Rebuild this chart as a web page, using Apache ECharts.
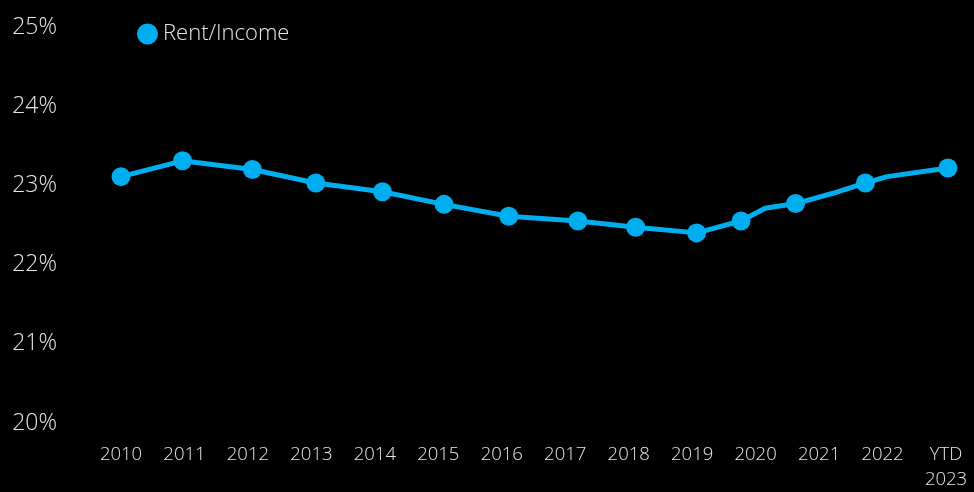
<!DOCTYPE html>
<html>
<head>
<meta charset="utf-8">
<script src="https://cdn.jsdelivr.net/npm/echarts@6/dist/echarts.min.js"></script>
<style>
  html, body { margin: 0; padding: 0; background: #000; }
  #chart { width: 974px; height: 492px; }
</style>
</head>
<body>
<div id="chart"></div>
<script>
// Annual rent-to-income readings (marked points), positioned on a fractional-year axis
const markX = [2010.0, 2010.97, 2012.07, 2013.07, 2014.12, 2015.09, 2016.11, 2017.2, 2018.11, 2019.07, 2019.77, 2020.63, 2021.73, 2023.03];
const markY = [23.06, 23.26, 23.15, 22.98, 22.87, 22.71, 22.56, 22.5, 22.42, 22.35, 22.5, 22.72, 22.98, 23.17];
// Intermediate readings on the line without a marker
const bendX = [2020.15, 2021.22, 2022.07];
const bendY = [22.66, 22.85, 23.06];
// Axis ticks
const yearTicks = [2010, 2011, 2012, 2013, 2014, 2015, 2016, 2017, 2018, 2019, 2020, 2021, 2022, 2023];
const yearLabels = ['2010', '2011', '2012', '2013', '2014', '2015', '2016', '2017', '2018', '2019', '2020', '2021', '2022', 'YTD\n2023'];

const points = [];
markX.forEach((x, i) => points.push({ value: [x, markY[i]] }));
bendX.forEach((x, i) => points.push({ value: [x, bendY[i]], symbol: 'none' }));
points.sort((a, b) => a.value[0] - b.value[0]);

const BLUE = '#00AEEF';
const TEXT = '#e6e6e6';
const FONT = '"Open Sans", Lato, sans-serif';

const chart = echarts.init(document.getElementById('chart'));
chart.setOption({
  backgroundColor: '#000',
  animation: false,
  grid: { left: 121, right: 28, top: 23, bottom: 65.5 },
  legend: {
    left: 132, top: 18,
    icon: 'circle', itemWidth: 21, itemHeight: 21, itemGap: 10,
    textStyle: { color: TEXT, fontSize: 22, fontFamily: FONT, fontWeight: 300 },
    data: ['Rent/Income']
  },
  xAxis: {
    type: 'value', min: 2010, max: 2023, interval: 1,
    axisLine: { show: false }, axisTick: { show: false }, splitLine: { show: false },
    axisLabel: {
      color: TEXT, fontSize: 18.5, fontFamily: FONT, fontWeight: 300, lineHeight: 25, margin: 23,
      formatter: v => { const k = yearTicks.indexOf(v); return k >= 0 ? yearLabels[k] : ''; }
    }
  },
  yAxis: {
    type: 'value', min: 20, max: 25, interval: 1,
    axisLine: { show: false }, axisTick: { show: false }, splitLine: { show: false },
    axisLabel: {
      color: TEXT, margin: 64,
      formatter: '{p|{value}%}',
      rich: {
        p: { color: TEXT, fontSize: 23, fontFamily: FONT, fontWeight: 300, padding: [8, 0, 0, 0] }
      }
    }
  },
  series: [{
    name: 'Rent/Income',
    type: 'line',
    clip: false,
    data: points,
    symbol: 'circle', symbolSize: 19, showAllSymbol: true,
    lineStyle: { color: BLUE, width: 5 },
    itemStyle: { color: BLUE }
  }]
});
</script>
</body>
</html>
